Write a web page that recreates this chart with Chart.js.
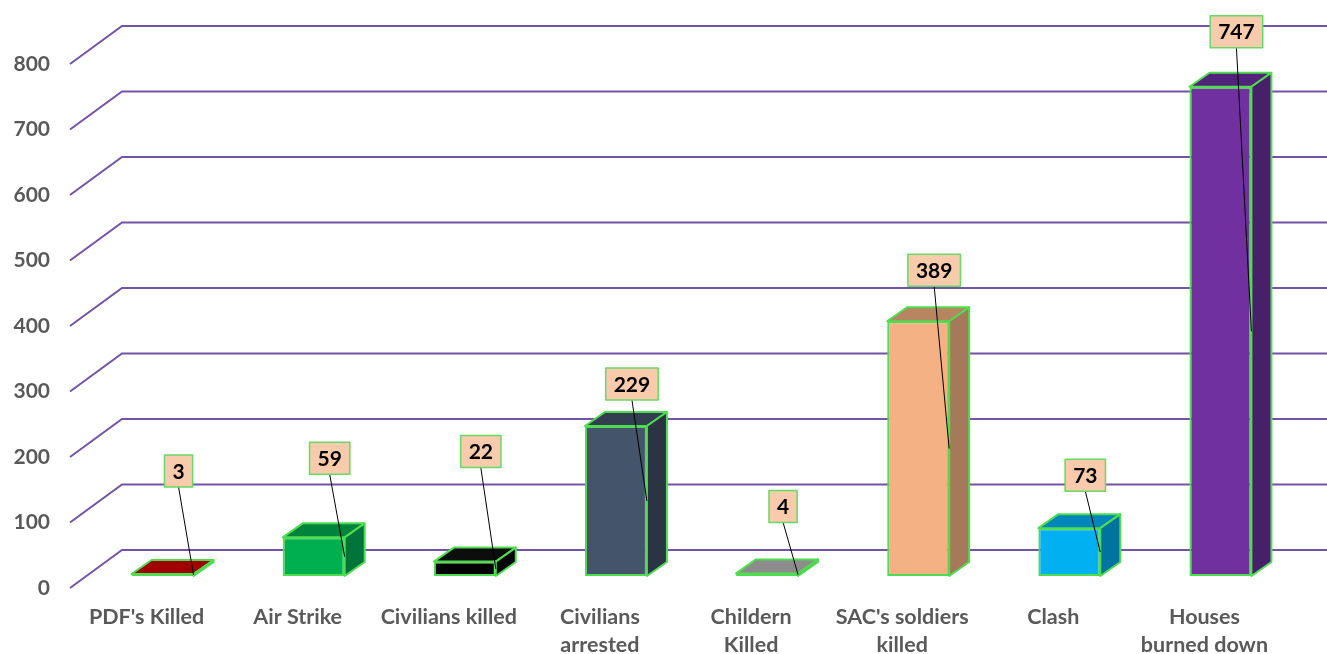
<!DOCTYPE html>
<html>
<head>
<meta charset="utf-8">
<script src="https://cdn.jsdelivr.net/npm/chart.js@4/dist/chart.umd.min.js"></script>
<style>
  html, body { margin: 0; padding: 0; background: #fff; }
  #wrap { width: 1327px; height: 654px; }
</style>
</head>
<body>
<div id="wrap"><canvas id="incidents"></canvas></div>
<script>
// Data
const categories = [
  ["PDF's Killed"],
  ["Air Strike"],
  ["Civilians killed"],
  ["Civilians", "arrested"],
  ["Childern", "Killed"],
  ["SAC's soldiers", "killed"],
  ["Clash"],
  ["Houses", "burned down"]
];
const counts = [3, 59, 22, 229, 4, 389, 73, 747];
const yTicks = [0, 100, 200, 300, 400, 500, 600, 700, 800];

// Styles (per bar): front, top and side faces
const frontColors = ["#C00000", "#00B050", "#000000", "#44546A", "#A5A5A5", "#F4B183", "#00B0F0", "#7030A0"];
const topColors   = ["#A00000", "#00833B", "#0D0D0D", "#333F50", "#8C8C8C", "#B7855F", "#0086B8", "#51237A"];
const sideColors  = ["#8E0000", "#00743A", "#050505", "#2A3443", "#7F7F7F", "#A57A5A", "#0073A0", "#48206A"];
// how far (px) each value box sits above its bar top
const labelRise = [103, 79, 110, 42, 67, 51, 53, 55];

const GRID = "#7453A6";
const EDGE = "#50DC50";
const TEXT = "#595959";
const WALL = { frontX: -17, frontY: 12, backX: 35, backY: -26 };
const BAR = { dx: 20, dy: -14 };

function poly(ctx, pts, fill) {
  ctx.beginPath();
  ctx.moveTo(pts[0][0], pts[0][1]);
  for (let k = 1; k < pts.length; k++) ctx.lineTo(pts[k][0], pts[k][1]);
  ctx.closePath();
  ctx.fillStyle = fill;
  ctx.fill();
  ctx.strokeStyle = EDGE;
  ctx.lineWidth = 2;
  ctx.stroke();
}

// Draws the perspective grid, the bar tops/sides and the callout labels
const threeD = {
  id: "threeD",
  beforeDatasetsDraw(chart) {
    const { ctx, chartArea, scales: { y } } = chart;
    ctx.save();
    ctx.strokeStyle = GRID;
    ctx.lineWidth = 2;
    yTicks.forEach(v => {
      const py = y.getPixelForValue(v);
      ctx.beginPath();
      ctx.moveTo(chartArea.left + WALL.frontX, py + WALL.frontY);
      ctx.lineTo(chartArea.left + WALL.backX, py + WALL.backY);
      ctx.lineTo(chart.width, py + WALL.backY);
      ctx.stroke();
    });
    ctx.restore();
  },
  afterDatasetsDraw(chart) {
    const { ctx } = chart;
    const meta = chart.getDatasetMeta(0);
    ctx.save();
    ctx.lineJoin = "round";
    meta.data.forEach((bar, i) => {
      const l = bar.x - bar.width / 2, r = bar.x + bar.width / 2;
      const t = bar.y, b = bar.base;
      poly(ctx, [[l, t], [r, t], [r + BAR.dx, t + BAR.dy], [l + BAR.dx, t + BAR.dy]], topColors[i]);
      poly(ctx, [[r, t], [r + BAR.dx, t + BAR.dy], [r + BAR.dx, b + BAR.dy], [r, b]], sideColors[i]);
    });

    // value callouts
    ctx.font = "bold 21px Lato";
    ctx.textAlign = "center";
    ctx.textBaseline = "middle";
    meta.data.forEach((bar, i) => {
      const r = bar.x + bar.width / 2;
      const cx = bar.x + 16;
      const cy = bar.y - labelRise[i];
      const txt = String(counts[i]);
      const w = ctx.measureText(txt).width + 16, h = 32;
      ctx.beginPath();
      ctx.moveTo(cx, cy + h / 2);
      ctx.lineTo(r, (bar.y + bar.base) / 2);
      ctx.strokeStyle = "#000";
      ctx.lineWidth = 1;
      ctx.stroke();
      ctx.fillStyle = "#F8CBAD";
      ctx.fillRect(cx - w / 2, cy - h / 2, w, h);
      ctx.strokeStyle = "#66D966";
      ctx.lineWidth = 1.5;
      ctx.strokeRect(cx - w / 2, cy - h / 2, w, h);
      ctx.fillStyle = "#000";
      ctx.fillText(txt, cx, cy + 1);
    });
    ctx.restore();
  }
};

new Chart(document.getElementById("incidents"), {
  type: "bar",
  data: {
    labels: categories,
    datasets: [{
      data: counts,
      backgroundColor: frontColors,
      borderColor: EDGE,
      borderWidth: 2,
      borderSkipped: false,
      barPercentage: 1,
      categoryPercentage: 0.41
    }]
  },
  options: {
    responsive: true,
    maintainAspectRatio: false,
    animation: false,
    layout: { padding: { top: 52, right: 31, left: 0, bottom: 0 } },
    plugins: {
      legend: { display: false },
      tooltip: { enabled: false }
    },
    scales: {
      x: {
        grid: { display: false, drawTicks: false },
        border: { display: false },
        afterFit: s => { s.height = 78; },
        ticks: {
          color: TEXT,
          font: { family: "Lato", weight: "bold", size: 21.5, lineHeight: 1.3 },
          padding: 27,
          labelOffset: -16,
          maxRotation: 0,
          autoSkip: false
        }
      },
      y: {
        min: 0,
        max: 800,
        grid: { display: false, drawTicks: false },
        border: { display: false },
        afterFit: s => { s.width = 87; },
        ticks: {
          stepSize: 100,
          color: TEXT,
          font: { family: "Lato", weight: "bold", size: 21 },
          padding: 37,
          labelOffset: 12
        }
      }
    }
  },
  plugins: [threeD]
});
</script>
</body>
</html>
